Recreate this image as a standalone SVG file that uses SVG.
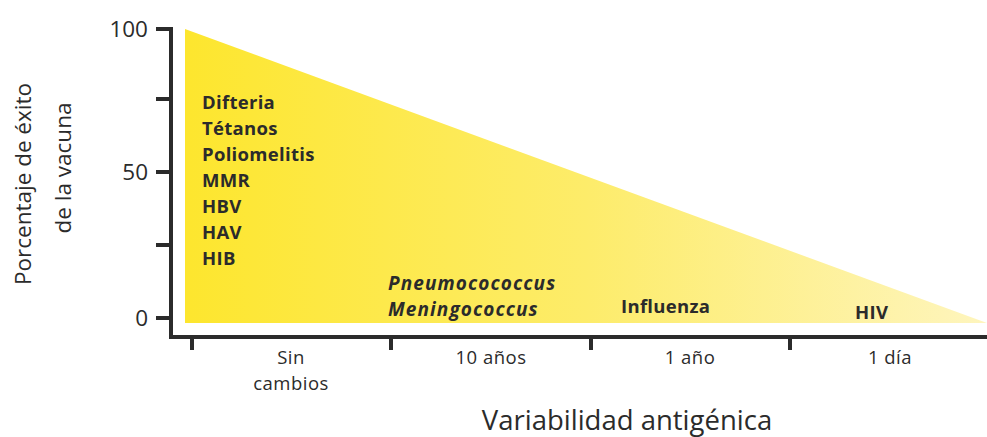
<svg xmlns="http://www.w3.org/2000/svg" width="987" height="437" viewBox="0 0 987 437">
<defs>
<linearGradient id="g" x1="185" y1="0" x2="987" y2="0" gradientUnits="userSpaceOnUse">
<stop offset="0" stop-color="#FDE62E"/>
<stop offset="0.5" stop-color="#FDEC6A"/>
<stop offset="1" stop-color="#FEF5BE"/>
</linearGradient>
<style>
.ax{stroke:#2b2b2b;stroke-width:4;fill:none}
.t{font-family:"Open Sans","Noto Sans",sans-serif;fill:#2b2b2b}
.n{font-size:22.5px}
.b{font-size:18.5px;font-weight:bold;letter-spacing:0.3px}
.bi{font-size:19px;font-weight:bold;font-style:italic;letter-spacing:1.1px}
.x{font-size:18.5px;text-anchor:middle;letter-spacing:0.5px}
</style>
</defs>
<g id="wedge"><polygon points="185,29 185,323 987,323" fill="url(#g)"/></g>
<g id="axes">
<path class="ax" d="M156,29 H171 V337 H987"/>
<path class="ax" d="M156,99 H171 M156,172 H171 M156,245 H171 M156,318 H171"/>
<path class="ax" d="M192,337 V350 M391,337 V350 M591,337 V350 M790,337 V350"/>
</g>
<g id="ylabels" class="t n">
<text x="148" y="37" text-anchor="end">100</text>
<text x="148" y="180" text-anchor="end">50</text>
<text x="148" y="326" text-anchor="end">0</text>
</g>
<g id="ytitle" class="t n">
<text transform="translate(31,184) rotate(-90)" text-anchor="middle">Porcentaje de éxito</text>
<text transform="translate(71,168) rotate(-90)" text-anchor="middle">de la vacuna</text>
</g>
<g id="vaccines" class="t b">
<text x="202" y="109">Difteria</text>
<text x="202" y="135">Tétanos</text>
<text x="202" y="161">Poliomelitis</text>
<text x="202" y="187">MMR</text>
<text x="202" y="213">HBV</text>
<text x="202" y="239">HAV</text>
<text x="202" y="265">HIB</text>
</g>
<g id="pathogens">
<text class="t bi" x="388" y="290">Pneumocococcus</text>
<text class="t bi" x="388" y="316">Meningococcus</text>
<text class="t b" x="621" y="313">Influenza</text>
<text class="t b" x="855" y="319">HIV</text>
</g>
<g id="xlabels" class="t x">
<text x="291" y="364">Sin</text>
<text x="291" y="390">cambios</text>
<text x="491" y="364">10 años</text>
<text x="690" y="364">1 año</text>
<text x="890" y="364">1 día</text>
</g>
<g id="xtitle"><text class="t" x="627" y="430" font-size="27.5" text-anchor="middle">Variabilidad antigénica</text></g>
</svg>
